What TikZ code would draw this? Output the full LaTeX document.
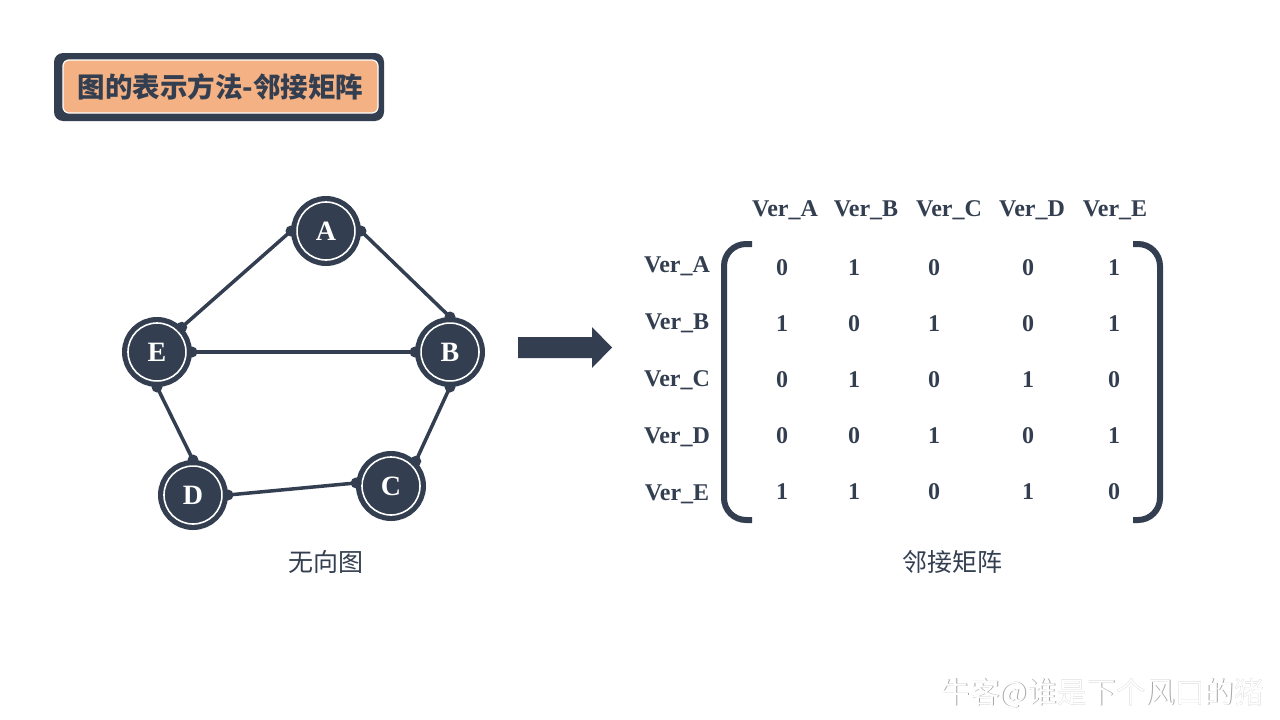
\documentclass[tikz,border=0pt]{standalone}
\usepackage{fontspec}
\setmainfont{Liberation Serif}
\newfontfamily\cjk{Noto Sans CJK SC}
\definecolor{dark}{HTML}{333F50}
\definecolor{peach}{HTML}{F4B183}
\tikzset{
  vtx/.style={circle, minimum size=58pt, inner sep=0pt, fill=dark, draw=white,
    line width=1.6pt, preaction={draw=dark, line width=12pt}, outer sep=6pt,
    text=white, font=\bfseries\fontsize{28}{28}\selectfont},
  gedge/.style={draw=dark, line width=3.5pt},
  gdot/.style={fill=dark},
  lbl/.style={text=dark, font=\bfseries\fontsize{24}{24}\selectfont, inner sep=0pt},
  num/.style={text=dark, font=\bfseries\fontsize{24}{24}\selectfont, inner sep=0pt},
  captext/.style={text=dark, font=\cjk\fontsize{25}{25}\selectfont, inner sep=0pt},
  wmtext/.style={font=\cjk\fontsize{29.5}{29.5}\selectfont, inner sep=0pt},
}
\begin{document}
\begin{tikzpicture}[x=1pt, y=-1pt]
\fill[white] (0,0) rectangle (1280,720);
\path[use as bounding box] (0,0) rectangle (1280,720);

% title
\fill[dark, rounded corners=9pt] (54,53) rectangle (384,121);
\draw[fill=peach, draw=white, line width=1.2pt, rounded corners=6pt] (63,60) rectangle (378,113);
\node[text=dark, font=\cjk\bfseries\fontsize{27.5}{27.5}\selectfont, inner sep=0pt] (title) at (220.5,87) {图的表示方法-邻接矩阵};

% graph
\node[vtx] (A) at (326,231) {A};
\node[vtx] (B) at (450,352) {B};
\node[vtx] (C) at (391,486) {C};
\node[vtx] (D) at (193,495) {D};
\node[vtx] (E) at (157,352) {E};

\draw[gedge] (A.180) -- (E.45);
\draw[gedge] (A.0) -- (B.90);
\draw[gedge] (E.0) -- (B.180);
\draw[gedge] (E.270) -- (D.90);
\draw[gedge] (B.270) -- (C.45);
\draw[gedge] (D.0) -- (C.175);
\foreach \p in {A.180,E.45,A.0,B.90,E.0,B.180,E.270,D.90,B.270,C.45,D.0,C.175}
  \fill[gdot] (\p) circle (5.5pt);

\node[captext] (cap1) at (326,562) {无向图};

% arrow
\fill[dark] (518,337) -- (592,337) -- (592,327) -- (612,347.5) -- (592,368) -- (592,358) -- (518,358) -- cycle;

% matrix headers
\node[lbl] (h1) at (785,210) {Ver\_A};
\node[lbl] (h2) at (866,210) {Ver\_B};
\node[lbl] (h3) at (949,210) {Ver\_C};
\node[lbl] (h4) at (1032,210) {Ver\_D};
\node[lbl] (h5) at (1115,210) {Ver\_E};

\node[lbl] (r1) at (677,266) {Ver\_A};
\node[lbl] (r2) at (677,323) {Ver\_B};
\node[lbl] (r3) at (677,380) {Ver\_C};
\node[lbl] (r4) at (677,437) {Ver\_D};
\node[lbl] (r5) at (677,494) {Ver\_E};

% brackets
\draw[dark, line width=6pt, rounded corners=22pt] (752,244) -- (724,244) -- (724,520) -- (752,520);
\draw[dark, line width=6pt, rounded corners=22pt] (1133,244) -- (1160,244) -- (1160,520) -- (1133,520);

% entries
\foreach \row [count=\i] in {{0,1,0,0,1},{1,0,1,0,1},{0,1,0,1,0},{0,0,1,0,1},{1,1,0,1,0}} {
  \foreach \v [count=\j] in \row {
    \pgfmathsetmacro{\xx}{{782,854,934,1028,1114}[\j-1]}
    \pgfmathsetmacro{\yy}{{268,324,380,436,492}[\i-1]}
    \node[num] (m-\i-\j) at (\xx,\yy) {\v};
  }
}

\node[captext] (cap2) at (952,562) {邻接矩阵};

% watermark
\node[wmtext, text=gray!70] (wm-s) at (1103,694) {牛客@谁是下个风口的猪};
\node[wmtext, text=white] (wm) at (1102.3,693.3) {牛客@谁是下个风口的猪};
\end{tikzpicture}
\end{document}
